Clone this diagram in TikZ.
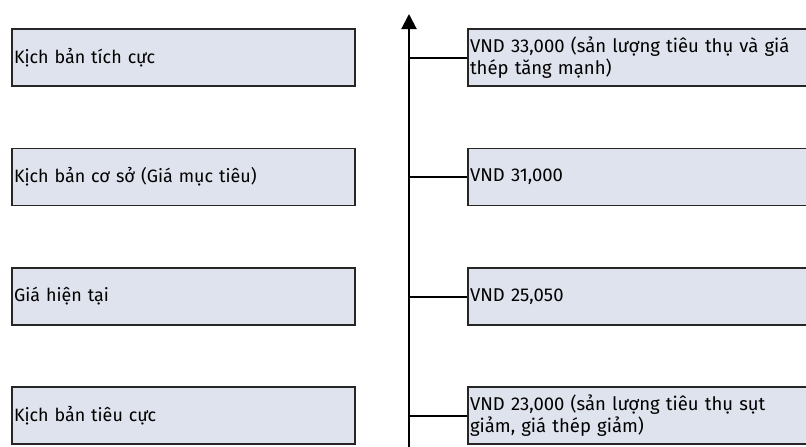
\documentclass[tikz,border=0pt]{standalone}
\usepackage{fontspec}
\setmainfont{Fira Sans}
\usetikzlibrary{arrows.meta}
\usetikzlibrary{positioning}
\definecolor{boxfill}{HTML}{DFE3ED}
\definecolor{boxline}{HTML}{262626}

\begin{document}
\begin{tikzpicture}[x=1pt, y=-1pt,
  casebox/.style={rectangle, draw=boxline, fill=boxfill, line width=1.5pt, minimum height=57pt, inner xsep=2pt, inner ysep=0pt, text width=339pt, align=left, font=\fontsize{17.9}{21.5}\selectfont},
  pricebox/.style={casebox, text width=338pt, font=\fontsize{18.5}{21.5}\selectfont},
  link/.style={line width=2pt}]
\useasboundingbox (0,0) rectangle (806,447);
\clip (0,0) rectangle (806,447);
% left: scenarios
\draw (183.5,57.5) node[casebox, name = c1]{Kịch bản tích cực};
\draw (c1) + (0,119.5) node[casebox, name = c2]{Kịch bản cơ sở (Giá mục tiêu)};
\draw (c2) + (0,119.5) node[casebox, name = c3]{Giá hiện tại};
\draw (c3) + (0,119) node[casebox, name = c4]{Kịch bản tiêu cực};
% right: prices
\draw (c1) + (455.5,0) node[pricebox, name = p1]{VND 33,000 (sản lượng tiêu thụ và giá thép tăng mạnh)};
\draw (c2) + (455.5,0) node[pricebox, name = p2]{VND 31,000};
\draw (c3) + (455.5,0) node[pricebox, name = p3]{VND 25,050};
\draw (c4) + (455.5,0) node[pricebox, name = p4]{VND 23,000 (sản lượng tiêu thụ sụt giảm, giá thép giảm)};
% axis
\coordinate (ax0) at (409,448);
\coordinate (ax1) at (409,14);
\draw[line width=2pt, -{Triangle[length=15pt, width=15pt]}] (ax0) -- (ax1);
\draw[link] (p1.west) -- (p1.west -| ax0);
\draw[link] (p2.west) -- (p2.west -| ax0);
\draw[link] (p3.west) -- (p3.west -| ax0);
\draw[link] (p4.west) -- (p4.west -| ax0);
\end{tikzpicture}
\end{document}
